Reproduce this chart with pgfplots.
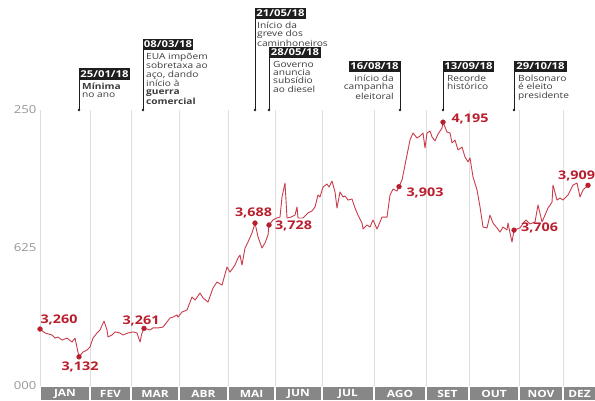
\documentclass[border=0pt]{standalone}
\usepackage{pgfplots}
\pgfplotsset{compat=1.18}
\usepackage{fontspec}
\setmainfont[FakeStretch=1.2]{Open Sans}
\definecolor{linered}{RGB}{200,60,75}
\definecolor{labred}{RGB}{185,30,45}
\definecolor{band}{RGB}{135,135,135}
\definecolor{tickgray}{RGB}{150,150,150}
\definecolor{anntext}{RGB}{60,60,60}
\definecolor{boxblack}{RGB}{30,30,30}
\begin{document}
\begin{tikzpicture}[x=1bp,y=1bp]
\path[use as bounding box] (0,0) rectangle (595,400);
\begin{axis}[at={(40bp,14bp)}, anchor=south west, scale only axis,
  width=555bp, height=276bp,
  xmin=40, xmax=595, ymin=3, ymax=4.25, clip=false,
  axis line style={draw=none},
  xtick={40,90,131,179,228,275,322,374,426,469,519,563}, xticklabels={},
  xmajorgrids, grid style={black!13, line width=0.6bp},
  major tick length=0,
  ytick={3,3.625,4.25}, yticklabels={000,625,250},
  yticklabel style={font=\fontsize{11}{11}\selectfont, text=tickgray},
  /pgf/number format/assume math mode=true]
\addplot[linered, line width=0.9bp, line join=round] coordinates {
(40,3.258)(45,3.240)(52,3.231)(55,3.217)(58,3.222)(62,3.208)(67,3.217)(72,3.199)(75,3.217)(79,3.132)(83,3.154)(87,3.163)(90,3.177)(93,3.217)(97,3.240)(100,3.254)(104,3.294)(107,3.254)(108,3.222)(112,3.231)(115,3.245)(120,3.240)(123,3.231)(128,3.240)(133,3.245)(137,3.240)(140,3.199)(142,3.240)(144,3.261)(150,3.254)(153,3.263)(158,3.263)(163,3.267)(167,3.290)(170,3.308)(173,3.312)(177,3.322)(178,3.312)(182,3.335)(187,3.344)(192,3.403)(195,3.389)(200,3.421)(203,3.399)(208,3.380)(213,3.444)(217,3.471)(222,3.457)(227,3.539)(230,3.516)(235,3.548)(238,3.580)(240,3.593)(242,3.548)(245,3.625)(248,3.652)(252,3.693)(255,3.738)(258,3.675)(262,3.625)(265,3.648)(268,3.684)(269,3.729)(273,3.752)(277,3.761)(280,3.765)(282,3.856)(285,3.919)(287,3.761)(291,3.765)(295,3.774)(297,3.811)(298,3.761)(303,3.761)(305,3.770)(308,3.784)(312,3.793)(315,3.811)(318,3.865)(320,3.856)(323,3.901)(327,3.915)(329,3.901)(332,3.928)(335,3.879)(337,3.806)(340,3.879)(343,3.856)(345,3.861)(348,3.842)(352,3.847)(355,3.806)(358,3.774)(362,3.738)(363,3.711)(367,3.729)(370,3.720)(373,3.752)(377,3.711)(382,3.765)(387,3.765)(390,3.865)(393,3.892)(397,3.883)(399,3.903)(402,3.933)(405,4.001)(408,4.069)(410,4.114)(413,4.146)(417,4.123)(420,4.132)(423,4.146)(425,4.078)(427,4.146)(430,4.155)(432,4.128)(435,4.110)(438,4.141)(442,4.168)(443,4.195)(447,4.150)(450,4.146)(452,4.101)(455,4.114)(458,4.069)(462,4.082)(465,4.037)(468,4.015)(470,4.033)(473,3.947)(477,3.888)(480,3.811)(483,3.720)(487,3.716)(490,3.774)(493,3.738)(497,3.716)(500,3.697)(503,3.720)(507,3.707)(508,3.738)(510,3.693)(512,3.652)(514,3.706)(520,3.716)(524,3.743)(526,3.752)(530,3.734)(535,3.743)(538,3.820)(542,3.743)(545,3.774)(548,3.806)(552,3.833)(553,3.910)(557,3.842)(560,3.851)(563,3.842)(568,3.865)(573,3.910)(577,3.919)(580,3.856)(583,3.888)(588,3.909)
};
\addplot[only marks, mark=*, mark size=2.4bp, color=labred] coordinates {
(40,3.258)(79,3.132)(144,3.261)(255,3.738)(269,3.729)(399,3.903)(443,4.195)(514,3.706)(588,3.909)
};
\begin{scope}[every node/.style={font=\bfseries\fontsize{12}{12}\selectfont, text=labred, inner sep=0}]
\node at (axis cs:59,3.299) {3,260};
\node at (axis cs:80,3.086) {3,132};
\node at (axis cs:141,3.294) {3,261};
\node at (axis cs:253.5,3.784) {3,688};
\node at (axis cs:293.5,3.725) {3,728};
\node at (axis cs:425,3.874) {3,903};
\node at (axis cs:470,4.209) {4,195};
\node at (axis cs:539.5,3.716) {3,706};
\node at (axis cs:576.5,3.951) {3,909};
\end{scope}
\end{axis}
% month band
\foreach \a/\b/\m in {40/90/JAN,90/131/FEV,131/179/MAR,179/228/ABR,228/275/MAI,275/322/JUN,322/374/JUL,374/426/AGO,426/469/SET,469/519/OUT,519/563/NOV,563/596/DEZ}{
  \fill[band] (\a+1,0) rectangle (\b-1,13);
  \node[text=white, font=\bfseries\fontsize{10}{10}\selectfont, inner sep=0] at ({(\a+\b)/2},6.5) {\m};
}
% annotations
\tikzset{annline/.style={draw=boxblack, line width=0.8bp},
  anntxt/.style={inner sep=0, font=\fontsize{8.5}{8.3}\selectfont, text=anntext},
  datetxt/.style={inner sep=0, text=white, font=\bfseries\fontsize{9.5}{9.5}\selectfont}}
% 25/01/18
\draw[annline] (79,290) -- (79,332);
\fill[boxblack] (79,290) circle (1.3);
\fill[boxblack] (79,320) rectangle (130,332);
\node[datetxt] at (104.5,326) {25/01/18};
\node[anntxt, anchor=north west, align=left] at (82,317) {\textbf{Mínima}\\no ano};
% 08/03/18
\draw[annline] (143,290) -- (143,361);
\fill[boxblack] (143,290) circle (1.3);
\fill[boxblack] (143,350) rectangle (193,361);
\node[datetxt] at (168,355.5) {08/03/18};
\node[anntxt, anchor=north west, align=left] at (146,347) {EUA impõem\\sobretaxa ao\\aço, dando\\início à\\\textbf{guerra}\\\textbf{comercial}};
% 21/05/18
\draw[annline] (255,290) -- (255,392);
\fill[boxblack] (255,290) circle (1.3);
\fill[boxblack] (255,381) rectangle (306,392);
\node[datetxt] at (280.5,386.5) {21/05/18};
\node[anntxt, anchor=north west, align=left] at (257,378) {Início da\\greve dos\\caminhoneiros};
% 28/05/18
\draw[annline] (269,290) -- (269,353);
\fill[boxblack] (269,290) circle (1.3);
\fill[boxblack] (269,342) rectangle (321,353);
\node[datetxt] at (295,347.5) {28/05/18};
\node[anntxt, anchor=north west, align=left] at (273,339) {Governo\\anuncia\\subsídio\\ao diesel};
% 16/08/18
\draw[annline] (400,290) -- (400,339);
\fill[boxblack] (400,290) circle (1.3);
\fill[boxblack] (349,328) rectangle (400,339);
\node[datetxt] at (374.5,333.5) {16/08/18};
\node[anntxt, anchor=north east, align=right] at (394,325) {início da\\campanha\\eleitoral};
% 13/09/18
\draw[annline] (443,290) -- (443,339);
\fill[boxblack] (443,290) circle (1.3);
\fill[boxblack] (443,328) rectangle (494,339);
\node[datetxt] at (468.5,333.5) {13/09/18};
\node[anntxt, anchor=north west, align=left] at (447,325) {Recorde\\histórico};
% 29/10/18
\draw[annline] (514,290) -- (514,339);
\fill[boxblack] (514,290) circle (1.3);
\fill[boxblack] (514,328) rectangle (567,339);
\node[datetxt] at (540.5,333.5) {29/10/18};
\node[anntxt, anchor=north west, align=left] at (518,325) {Bolsonaro\\é eleito\\presidente};
\end{tikzpicture}
\end{document}
